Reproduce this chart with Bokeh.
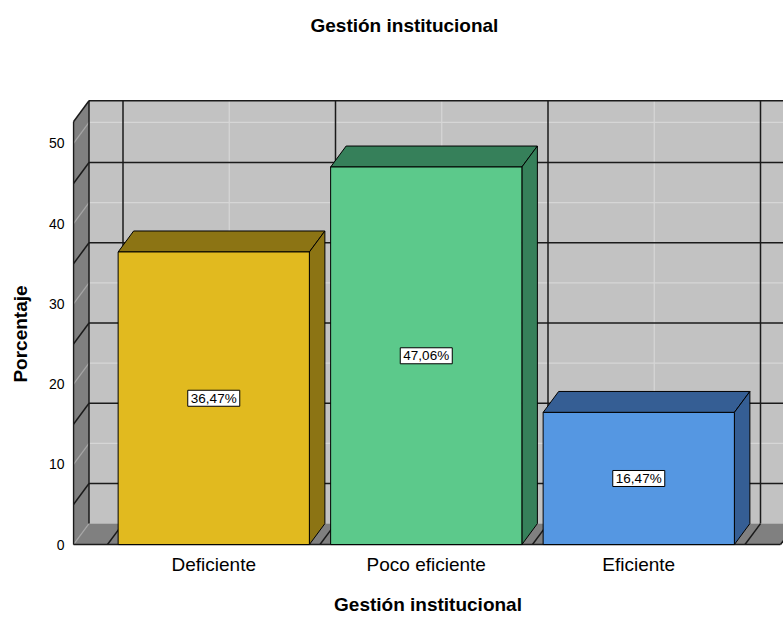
from bokeh.plotting import figure
from bokeh.models import Range1d, FixedTicker, ColumnDataSource, Title
from bokeh.core.properties import value
from bokeh.embed import file_html
from bokeh.resources import INLINE

# ---- data ----
categories = ["Deficiente", "Poco eficiente", "Eficiente"]
percentages = [36.47, 47.06, 16.47]
front_colors = ["#E1BA1F", "#5CC98B", "#5597E2"]
shade_colors = ["#8C7414", "#36805A", "#355E94"]
y_ticks = [0, 10, 20, 30, 40, 50]
major_wall_lines = [5, 15, 25, 35, 45]
minor_wall_lines = [10, 20, 30, 40, 50]
title_text = "Gestión institucional"
x_title = "Gestión institucional"
y_title = "Porcentaje"

# ---- layout (pixels) ----
W, H = 783, 617
FL, FR = 72, 783
FT, FB = 95, 573
Y0PX = 545
PXY = 8.04
PXC = 212.5
CAT1_PX = 213.25


def px_to_x(px):
    return 1 + (px - CAT1_PX) / PXC


def py_to_y(py):
    return (Y0PX - py) / PXY


x_start = px_to_x(FL)
x_end = px_to_x(FR)

DX = 15.5 / PXC
DY = 21 / PXY
XW = px_to_x(73)
YTOP = 52.7
XF = px_to_x(780)
XR = x_end + 0.5
BW = 0.45

xs_cat = [i + 1 for i in range(len(categories))]
bounds = [c - 0.5 for c in xs_cat] + [xs_cat[-1] + 0.5]

p = figure(width=W, height=H, x_range=Range1d(x_start, x_end),
           y_range=Range1d(py_to_y(FB), py_to_y(FT)),
           output_backend="svg", toolbar_location=None,
           min_border_left=FL, min_border_right=0, min_border_top=FT, min_border_bottom=H - FB)
p.grid.visible = False
p.outline_line_color = None
p.background_fill_color = "white"
p.border_fill_color = "white"

# title (spacer first, nearest the frame; then the real title)
p.add_layout(Title(text=" ", text_font_size="10px", standoff=42), "above")
p.add_layout(Title(text=title_text, align="left", offset=238, standoff=10,
                   text_font="Liberation Sans", text_font_size="19px",
                   text_font_style="bold", text_color="black"), "above")

# walls
WALL_LIGHT = "#C2C2C2"
WALL_DARK = "#808080"
p.patch([XW + DX, XR, XR, XW + DX], [DY, DY, YTOP + DY, YTOP + DY], fill_color=WALL_LIGHT, line_color=None)
p.patch([XW, XW, XW + DX, XW + DX], [0, YTOP, YTOP + DY, DY], fill_color=WALL_DARK, line_color=None)
p.patch([XW, XW + DX, XF + DX, XF], [0, DY, DY, 0], fill_color=WALL_DARK, line_color=None)

# light lines
lx, ly = [], []
for v in minor_wall_lines:
    lx.append([XW + DX, XR]); ly.append([v + DY, v + DY])
for c in xs_cat:
    lx.append([c + DX, c + DX]); ly.append([DY, YTOP + DY])
p.multi_line(lx, ly, line_color="#D6D6D6", line_width=1.2)
dx_l, dy_l = [], []
for v in minor_wall_lines:
    dx_l.append([XW, XW + DX]); dy_l.append([v, v + DY])
for c in xs_cat:
    dx_l.append([c, c + DX]); dy_l.append([0, DY])
dx_l.append([XW, XW + DX]); dy_l.append([0, DY])
p.multi_line(dx_l, dy_l, line_color="#A6A6A6", line_width=1.2)

# dark lines
kx, ky = [], []
for v in major_wall_lines:
    kx.append([XW + DX, XR]); ky.append([v + DY, v + DY])
    kx.append([XW, XW + DX]); ky.append([v, v + DY])
for b in bounds:
    kx.append([b + DX, b + DX]); ky.append([DY, YTOP + DY])
    kx.append([b, b + DX]); ky.append([0, DY])
kx.append([XW + DX, XR]); ky.append([YTOP + DY, YTOP + DY])
kx.append([XW, XW + DX]); ky.append([YTOP, YTOP + DY])
kx.append([XW, XW]); ky.append([0, YTOP])
kx.append([XW + DX, XW + DX]); ky.append([DY, YTOP + DY])
kx.append([XW, XF]); ky.append([0, 0])
kx.append([XF, XF + DX]); ky.append([0, DY])
p.multi_line(kx, ky, line_color="#1A1A1A", line_width=1.5)

# bars: top + side faces
fx, fy, fc = [], [], []
for c, v, sc in zip(xs_cat, percentages, shade_colors):
    fx.append([c - BW, c - BW + DX, c + BW + DX, c + BW]); fy.append([v, v + DY, v + DY, v]); fc.append(sc)
    fx.append([c + BW, c + BW, c + BW + DX, c + BW + DX]); fy.append([0, v, v + DY, DY]); fc.append(sc)
p.patches(fx, fy, fill_color=fc, line_color="black", line_width=1)

bars = ColumnDataSource(dict(
    x=xs_cat, top=percentages, color=front_colors,
    left=[c - BW for c in xs_cat], right=[c + BW for c in xs_cat],
    ymid=[v / 2 for v in percentages],
    label=[f"{v:.2f}".replace(".", ",") + "%" for v in percentages],
))
p.quad(left="left", right="right", bottom=0, top="top", fill_color="color",
       line_color="black", line_width=1, source=bars)

# value labels with boxes
p.rect(x="x", y="ymid", width=52, height=16, width_units="screen", height_units="screen",
       fill_color="white", line_color="black", line_width=1, source=bars)
p.text(x="x", y="ymid", text="label", source=bars, text_align="center", text_baseline="middle",
       text_font=value("Liberation Sans"), text_font_size="13.5px", text_color="black")

# axes
p.yaxis.ticker = FixedTicker(ticks=y_ticks)
p.yaxis.axis_line_color = None
p.yaxis.major_tick_line_color = None
p.yaxis.minor_tick_line_color = None
p.yaxis.major_tick_out = 0
p.yaxis.major_tick_in = 0
p.yaxis.major_label_standoff = 8
p.yaxis.major_label_text_font = "Liberation Sans"
p.yaxis.major_label_text_font_size = "14px"
p.yaxis.major_label_text_color = "black"
p.yaxis.axis_label = y_title
p.yaxis.axis_label_text_font = "Liberation Sans"
p.yaxis.axis_label_text_font_size = "19px"
p.yaxis.axis_label_text_font_style = "bold"
p.yaxis.axis_label_text_color = "black"
p.yaxis.axis_label_standoff = 15

p.xaxis.ticker = FixedTicker(ticks=xs_cat)
p.xaxis.major_label_overrides = {c: n for c, n in zip(xs_cat, categories)}
p.xaxis.axis_line_color = None
p.xaxis.major_tick_line_color = None
p.xaxis.minor_tick_line_color = None
p.xaxis.major_tick_out = 0
p.xaxis.major_tick_in = 0
p.xaxis.major_label_standoff = -19
p.xaxis.major_label_text_font = "Liberation Sans"
p.xaxis.major_label_text_font_size = "19px"
p.xaxis.major_label_text_color = "black"
p.xaxis.axis_label = x_title
p.xaxis.axis_label_text_font = "Liberation Sans"
p.xaxis.axis_label_text_font_size = "19px"
p.xaxis.axis_label_text_font_style = "bold"
p.xaxis.axis_label_text_color = "black"
p.xaxis.axis_label_standoff = 16

open("out.html", "w").write(file_html(p, INLINE))
